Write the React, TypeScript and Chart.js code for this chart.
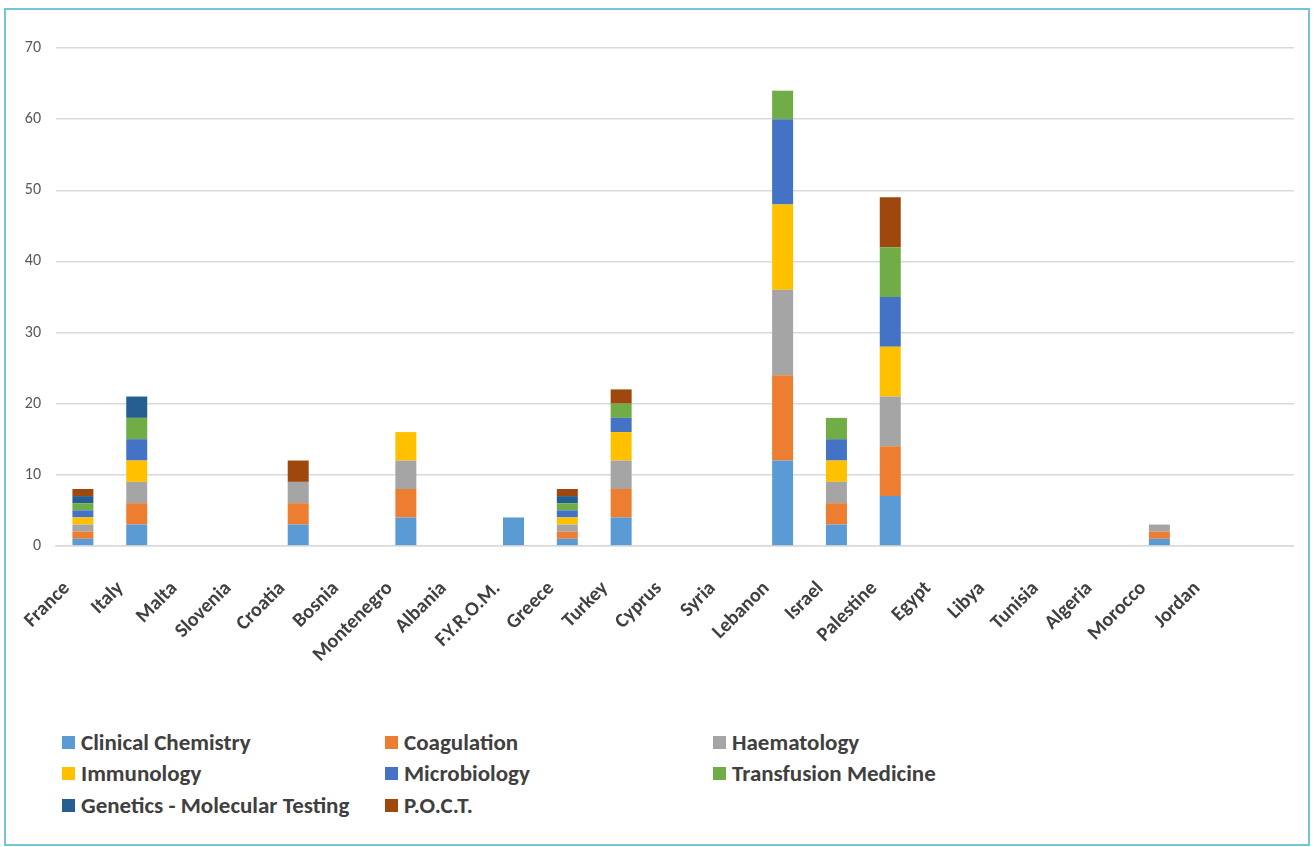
import React, { useEffect, useRef } from "react";
import { Chart, registerables } from "chart.js";

Chart.register(...registerables);

const categories = [
  "France", "Italy", "Malta", "Slovenia", "Croatia", "Bosnia", "Montenegro", "Albania",
  "F.Y.R.O.M.", "Greece", "Turkey", "Cyprus", "Syria", "Lebanon", "Israel", "Palestine",
  "Egypt", "Libya", "Tunisia", "Algeria", "Morocco", "Jordan", "",
];

const clinicalChemistry = [1, 3, 0, 0, 3, 0, 4, 0, 4, 1, 4, 0, 0, 12, 3, 7, 0, 0, 0, 0, 1, 0, 0];
const coagulation       = [1, 3, 0, 0, 3, 0, 4, 0, 0, 1, 4, 0, 0, 12, 3, 7, 0, 0, 0, 0, 1, 0, 0];
const haematology       = [1, 3, 0, 0, 3, 0, 4, 0, 0, 1, 4, 0, 0, 12, 3, 7, 0, 0, 0, 0, 1, 0, 0];
const immunology        = [1, 3, 0, 0, 0, 0, 4, 0, 0, 1, 4, 0, 0, 12, 3, 7, 0, 0, 0, 0, 0, 0, 0];
const microbiology      = [1, 3, 0, 0, 0, 0, 0, 0, 0, 1, 2, 0, 0, 12, 3, 7, 0, 0, 0, 0, 0, 0, 0];
const transfusion       = [1, 3, 0, 0, 0, 0, 0, 0, 0, 1, 2, 0, 0, 4, 3, 7, 0, 0, 0, 0, 0, 0, 0];
const genetics          = [1, 3, 0, 0, 0, 0, 0, 0, 0, 1, 0, 0, 0, 0, 0, 0, 0, 0, 0, 0, 0, 0, 0];
const poct              = [1, 0, 0, 0, 3, 0, 0, 0, 0, 1, 2, 0, 0, 0, 0, 7, 0, 0, 0, 0, 0, 0, 0];

const seriesNames = [
  "Clinical Chemistry", "Coagulation", "Haematology", "Immunology",
  "Microbiology", "Transfusion Medicine", "Genetics - Molecular Testing", "P.O.C.T.",
];
const seriesData = [clinicalChemistry, coagulation, haematology, immunology, microbiology, transfusion, genetics, poct];
const seriesColors = ["#5b9bd5", "#ed7d31", "#a5a5a5", "#ffc000", "#4472c4", "#70ad47", "#255e91", "#9e480e"];

const FONT = "Carlito, 'Open Sans', 'DejaVu Sans', sans-serif";

export default function App() {
  const ref = useRef<HTMLCanvasElement | null>(null);

  useEffect(() => {
    if (!ref.current) return;
    const chart = new Chart(ref.current, {
      type: "bar",
      data: {
        labels: categories,
        datasets: seriesNames.map((name, i) => ({
          label: name,
          data: seriesData[i],
          backgroundColor: seriesColors[i],
          borderWidth: 0,
          barPercentage: 0.39,
          categoryPercentage: 1,
        })),
      },
      options: {
        animation: false,
        responsive: false,
        maintainAspectRatio: false,
        layout: { padding: { top: 38, right: 0, left: 0, bottom: 0 } },
        plugins: { legend: { display: false }, tooltip: { enabled: false } },
        scales: {
          x: {
            stacked: true,
            grid: { display: false, drawTicks: false },
            border: { display: true, color: "#d9d9d9", width: 1.5 },
            ticks: {
              autoSkip: false,
              maxRotation: 45,
              minRotation: 45,
              padding: 31,
              labelOffset: -16,
              color: "#404040",
              font: { family: FONT, size: 20, weight: "bold" },
            },
          },
          y: {
            stacked: true,
            min: 0,
            max: 70,
            grid: { color: "#d9d9d9", lineWidth: 1.5, drawTicks: false },
            border: { display: false },
            ticks: {
              stepSize: 10,
              padding: 15,
              color: "#595959",
              font: { family: FONT, size: 16 },
            },
            afterFit: (s: any) => { s.width = 50; },
          },
        },
      },
    });
    return () => chart.destroy();
  }, []);

  const colLeft = [56, 379, 707];
  const rowTop = [719, 750, 782];

  return (
    <div
      style={{
        position: "fixed",
        left: 4,
        top: 8,
        width: 1302,
        height: 834,
        border: "2px solid #72c6d8",
        background: "#fff",
        fontFamily: FONT,
      }}
    >
      <canvas ref={ref} width={1309} height={688} style={{ position: "absolute", left: 0, top: 0 }} />
      {seriesNames.map((name, i) => (
        <div
          key={name}
          style={{
            position: "absolute",
            left: colLeft[i % 3],
            top: rowTop[Math.floor(i / 3)],
            display: "flex",
            alignItems: "center",
            fontWeight: "bold",
            fontSize: 23,
            color: "#404040",
            whiteSpace: "nowrap",
            lineHeight: "26px",
          }}
        >
          <span style={{ display: "inline-block", width: 13, height: 13, background: seriesColors[i], marginRight: 6 }} />
          {name}
        </div>
      ))}
    </div>
  );
}
